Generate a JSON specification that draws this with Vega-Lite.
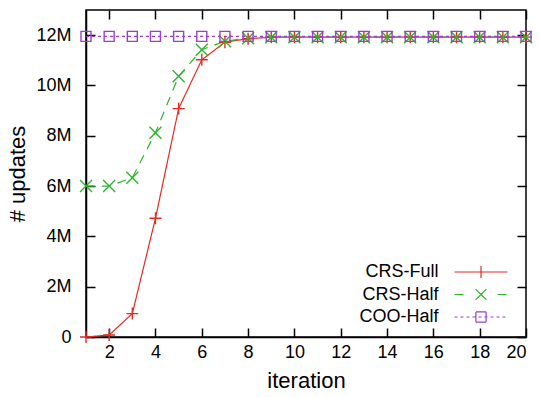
{
  "$schema": "https://vega.github.io/schema/vega-lite/v6.json",
  "width": 440,
  "height": 327,
  "autosize": {"type": "none"},
  "padding": {"left": 86, "top": 10, "right": 13, "bottom": 60},
  "background": "white",
  "config": {
    "font": "Liberation Sans",
    "view": {"stroke": "black", "strokeWidth": 1.5},
    "axis": {
      "grid": false,
      "domainColor": "black",
      "domainWidth": 1.5,
      "tickColor": "black",
      "tickWidth": 1.5,
      "tickSize": -9,
      "labelFont": "Liberation Sans",
      "labelFontSize": 18,
      "labelColor": "black",
      "titleFont": "Liberation Sans",
      "titleFontSize": 22,
      "titleFontWeight": "normal",
      "titleColor": "black"
    }
  },
  "data": {
    "values": [
      {"iteration": 1, "series": "CRS-Full", "updates": 0},
      {"iteration": 2, "series": "CRS-Full", "updates": 80000},
      {"iteration": 3, "series": "CRS-Full", "updates": 930000},
      {"iteration": 4, "series": "CRS-Full", "updates": 4720000},
      {"iteration": 5, "series": "CRS-Full", "updates": 9080000},
      {"iteration": 6, "series": "CRS-Full", "updates": 11020000},
      {"iteration": 7, "series": "CRS-Full", "updates": 11720000},
      {"iteration": 8, "series": "CRS-Full", "updates": 11860000},
      {"iteration": 9, "series": "CRS-Full", "updates": 11920000},
      {"iteration": 10, "series": "CRS-Full", "updates": 11920000},
      {"iteration": 11, "series": "CRS-Full", "updates": 11920000},
      {"iteration": 12, "series": "CRS-Full", "updates": 11920000},
      {"iteration": 13, "series": "CRS-Full", "updates": 11920000},
      {"iteration": 14, "series": "CRS-Full", "updates": 11920000},
      {"iteration": 15, "series": "CRS-Full", "updates": 11920000},
      {"iteration": 16, "series": "CRS-Full", "updates": 11920000},
      {"iteration": 17, "series": "CRS-Full", "updates": 11920000},
      {"iteration": 18, "series": "CRS-Full", "updates": 11920000},
      {"iteration": 19, "series": "CRS-Full", "updates": 11920000},
      {"iteration": 20, "series": "CRS-Full", "updates": 11920000},
      {"iteration": 1, "series": "CRS-Half", "updates": 6000000},
      {"iteration": 2, "series": "CRS-Half", "updates": 6000000},
      {"iteration": 3, "series": "CRS-Half", "updates": 6330000},
      {"iteration": 4, "series": "CRS-Half", "updates": 8120000},
      {"iteration": 5, "series": "CRS-Half", "updates": 10370000},
      {"iteration": 6, "series": "CRS-Half", "updates": 11420000},
      {"iteration": 7, "series": "CRS-Half", "updates": 11760000},
      {"iteration": 8, "series": "CRS-Half", "updates": 11880000},
      {"iteration": 9, "series": "CRS-Half", "updates": 11920000},
      {"iteration": 10, "series": "CRS-Half", "updates": 11920000},
      {"iteration": 11, "series": "CRS-Half", "updates": 11920000},
      {"iteration": 12, "series": "CRS-Half", "updates": 11920000},
      {"iteration": 13, "series": "CRS-Half", "updates": 11920000},
      {"iteration": 14, "series": "CRS-Half", "updates": 11920000},
      {"iteration": 15, "series": "CRS-Half", "updates": 11920000},
      {"iteration": 16, "series": "CRS-Half", "updates": 11920000},
      {"iteration": 17, "series": "CRS-Half", "updates": 11920000},
      {"iteration": 18, "series": "CRS-Half", "updates": 11920000},
      {"iteration": 19, "series": "CRS-Half", "updates": 11920000},
      {"iteration": 20, "series": "CRS-Half", "updates": 11920000},
      {"iteration": 1, "series": "COO-Half", "updates": 11950000},
      {"iteration": 2, "series": "COO-Half", "updates": 11950000},
      {"iteration": 3, "series": "COO-Half", "updates": 11950000},
      {"iteration": 4, "series": "COO-Half", "updates": 11950000},
      {"iteration": 5, "series": "COO-Half", "updates": 11950000},
      {"iteration": 6, "series": "COO-Half", "updates": 11950000},
      {"iteration": 7, "series": "COO-Half", "updates": 11950000},
      {"iteration": 8, "series": "COO-Half", "updates": 11950000},
      {"iteration": 9, "series": "COO-Half", "updates": 11950000},
      {"iteration": 10, "series": "COO-Half", "updates": 11950000},
      {"iteration": 11, "series": "COO-Half", "updates": 11950000},
      {"iteration": 12, "series": "COO-Half", "updates": 11950000},
      {"iteration": 13, "series": "COO-Half", "updates": 11950000},
      {"iteration": 14, "series": "COO-Half", "updates": 11950000},
      {"iteration": 15, "series": "COO-Half", "updates": 11950000},
      {"iteration": 16, "series": "COO-Half", "updates": 11950000},
      {"iteration": 17, "series": "COO-Half", "updates": 11950000},
      {"iteration": 18, "series": "COO-Half", "updates": 11950000},
      {"iteration": 19, "series": "COO-Half", "updates": 11950000},
      {"iteration": 20, "series": "COO-Half", "updates": 11950000}
    ]
  },
  "layer": [
    {
      "mark": {"type": "line", "strokeWidth": 1.2, "clip": true},
      "encoding": {
        "x": {"field": "iteration", "type": "quantitative",
              "scale": {"domain": [1, 20], "nice": false, "zero": false},
              "axis": {"values": [2, 4, 6, 8, 10, 12, 14, 16, 18, 20], "title": "iteration", "labelPadding": 15, "titlePadding": 9}},
        "y": {"field": "updates", "type": "quantitative",
              "scale": {"domain": [0, 13000000], "nice": false},
              "axis": {"values": [0, 2000000, 4000000, 6000000, 8000000, 10000000, 12000000],
                       "labelExpr": "datum.value == 0 ? '0' : (datum.value / 1000000) + 'M'",
                       "title": "# updates", "labelPadding": 24, "titlePadding": 6}},
        "color": {"field": "series", "type": "nominal",
                  "scale": {"domain": ["CRS-Full", "CRS-Half", "COO-Half"], "range": ["#e42a22", "#2db52d", "#9c3fcc"]},
                  "legend": {
                    "title": null,
                    "orient": "bottom-right",
                    "offset": 11,
                    "symbolType": "stroke",
                    "symbolSize": 144,
                    "symbolStrokeWidth": 1.2,
                    "rowPadding": 4.5,
                    "labelAlign": "right",
                    "labelOffset": -60.5,
                    "labelFont": "Liberation Sans",
                    "labelFontSize": 18,
                    "labelColor": "black",
                    "labelLimit": 300,
                    "encode": {
                      "symbols": {
                        "update": {
                          "shape": {"signal": "datum.value === 'CRS-Full' ? 'M-5.92,0L2.92,0M-1.5,-1L-1.5,1M3.75,0' : datum.value === 'CRS-Half' ? 'M-5.92,0L-4.25,0M1.25,0L2.92,0M-2.4,-0.9L-1.5,0M-1.5,0L-0.6,0.9M-2.4,0.9L-1.5,0M-1.5,0L-0.6,-0.9M3.75,0' : 'M-5.92,0L2.92,0M-2.35,-0.85L-1.925,-0.85M-1.925,-0.85L-1.5,-0.85M-1.5,-0.85L-1.075,-0.85M-1.075,-0.85L-0.65,-0.85M-0.65,-0.85L-0.65,-0.425M-0.65,-0.425L-0.65,0M-0.65,0L-0.65,0.425M-0.65,0.425L-0.65,0.85M-0.65,0.85L-1.075,0.85M-1.075,0.85L-1.5,0.85M-1.5,0.85L-1.925,0.85M-1.925,0.85L-2.35,0.85M-2.35,0.85L-2.35,0.425M-2.35,0.425L-2.35,0M-2.35,0L-2.35,-0.425M-2.35,-0.425L-2.35,-0.85M3.75,0'"},
                          "stroke": {"scale": "color", "field": "value"},
                          "strokeDash": {"scale": "strokeDash", "field": "value"},
                          "strokeWidth": {"value": 1.2},
                          "fill": {"value": "transparent"},
                          "opacity": {"value": 1},
                          "size": {"value": 144}
                        }
                      }
                    }
                  }},
        "strokeDash": {"field": "series", "type": "nominal",
                       "scale": {"domain": ["CRS-Full", "CRS-Half", "COO-Half"], "range": [[1, 0], [9, 7], [3, 3]]},
                       "legend": null}
      }
    },
    {
      "encoding": {
        "x": {"field": "iteration", "type": "quantitative",
              "axis": {"values": [2, 4, 6, 8, 10, 12, 14, 16, 18, 20], "labels": false, "title": null, "domain": false}},
        "y": {"field": "updates", "type": "quantitative",
              "axis": {"values": [0, 2000000, 4000000, 6000000, 8000000, 10000000, 12000000], "labels": false, "title": null, "domain": false}},
        "color": {"field": "series", "type": "nominal", "legend": null}
      },
      "layer": [
        {
          "transform": [{"filter": {"field": "series", "equal": "CRS-Full"}}],
          "mark": {"type": "point", "filled": false, "strokeWidth": 1.4, "opacity": 1, "clip": false, "shape": "M-1,0L1,0M0,-1L0,1", "size": 144}
        },
        {
          "transform": [{"filter": {"field": "series", "equal": "CRS-Half"}}],
          "mark": {"type": "point", "filled": false, "strokeWidth": 1.4, "opacity": 1, "clip": false, "shape": "M-1,-1L1,1M-1,1L1,-1", "size": 144}
        },
        {
          "transform": [{"filter": {"field": "series", "equal": "COO-Half"}}],
          "mark": {"type": "point", "filled": false, "strokeWidth": 1.4, "opacity": 1, "clip": false, "shape": "M-1,-1L1,-1L1,1L-1,1Z", "size": 100}
        }
      ]
    }
  ],
  "resolve": {"axis": {"x": "independent", "y": "independent"}}
}
